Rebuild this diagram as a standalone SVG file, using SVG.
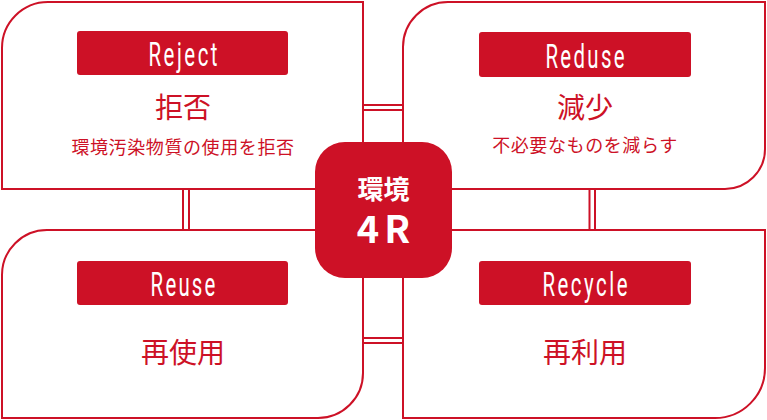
<svg xmlns="http://www.w3.org/2000/svg" width="767" height="420" viewBox="0 0 767 420">
<style>
.box{fill:#fff;stroke:#cd1126;stroke-width:2}
.ln{stroke:#cd1126;stroke-width:2;fill:none}
.ban{fill:#cd1126}
.en{font-family:Roboto,"Liberation Sans",sans-serif;font-size:34px;font-weight:400;fill:#fff;text-anchor:middle}
.big{font-family:"Noto Sans CJK JP",sans-serif;font-size:28px;fill:#cd1126;text-anchor:middle}
.sm{font-family:"Noto Sans CJK JP",sans-serif;font-size:18px;fill:#cd1126;text-anchor:middle;letter-spacing:0.6px}
.ctr{font-family:"Noto Sans CJK JP",sans-serif;font-weight:bold;fill:#fff;text-anchor:middle}
</style>
<rect width="767" height="420" fill="#fff"/>
<g id="connectors">
<line class="ln" x1="363" y1="105" x2="403" y2="105"/>
<line class="ln" x1="363" y1="110" x2="403" y2="110"/>
<line class="ln" x1="363" y1="338" x2="403" y2="338"/>
<line class="ln" x1="363" y1="343" x2="403" y2="343"/>
<line class="ln" x1="183" y1="189" x2="183" y2="230"/>
<line class="ln" x1="189" y1="189" x2="189" y2="230"/>
<line class="ln" x1="589.5" y1="189" x2="589.5" y2="230"/>
<line class="ln" x1="595" y1="189" x2="595" y2="230"/>
</g>
<g id="reject">
<path class="box" d="M2,189 V48 A46,46 0 0 1 48,2 H363 V189 Z"/>
<rect class="ban" x="77" y="31" width="211" height="44" rx="3"/>
<text class="en" transform="translate(183,66) scale(0.6,1)" x="0" y="0" textLength="115" lengthAdjust="spacing">Reject</text>
<text class="big" x="183" y="118">拒否</text>
<text class="sm" x="183" y="154">環境汚染物質の使用を拒否</text>
</g>
<g id="reduse">
<path class="box" d="M403,189 V47 A45,45 0 0 1 448,2 H765 V149 A40,40 0 0 1 725,189 Z"/>
<rect class="ban" x="479" y="32" width="212" height="45" rx="3"/>
<text class="en" transform="translate(585,68) scale(0.6,1)" x="0" y="0" textLength="132" lengthAdjust="spacing">Reduse</text>
<text class="big" x="585" y="118">減少</text>
<text class="sm" x="585" y="152">不必要なものを減らす</text>
</g>
<g id="reuse">
<path class="box" d="M2,418 V275 A45,45 0 0 1 47,230 H363 V373 A45,45 0 0 1 318,418 Z"/>
<rect class="ban" x="77" y="261" width="211" height="44" rx="3"/>
<text class="en" transform="translate(183,296) scale(0.6,1)" x="0" y="0" textLength="108" lengthAdjust="spacing">Reuse</text>
<text class="big" x="183" y="363">再使用</text>
</g>
<g id="recycle">
<path class="box" d="M403,418 V230 H765 V368 A50,50 0 0 1 715,418 Z"/>
<rect class="ban" x="479" y="261" width="212" height="44" rx="3"/>
<text class="en" transform="translate(585,296) scale(0.6,1)" x="0" y="0" textLength="142" lengthAdjust="spacing">Recycle</text>
<text class="big" x="585" y="363">再利用</text>
</g>
<g id="center">
<rect x="315" y="142" width="137" height="136" rx="30" fill="#cd1126"/>
<text class="ctr" x="383.5" y="199" font-size="26">環境</text>
<text class="ctr" x="386" y="243" font-size="38" letter-spacing="5">4R</text>
</g>
</svg>
